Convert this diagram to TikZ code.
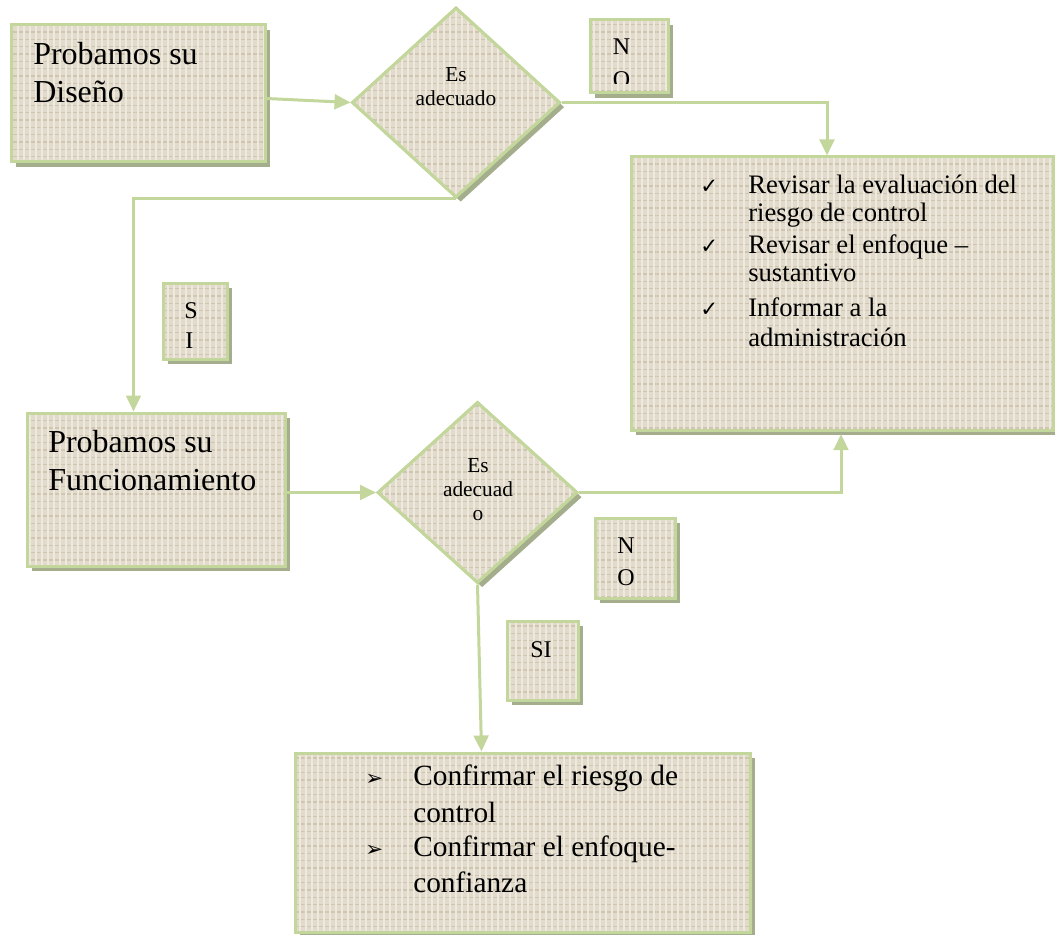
\documentclass[tikz,border=0pt]{standalone}
\usepackage{fontspec}
\setmainfont{Liberation Serif}
\newfontfamily\dejavu{DejaVu Sans}
\usetikzlibrary{shapes.geometric,shadows,arrows.meta,patterns.meta}
\definecolor{bordc}{HTML}{C3D69B}
\definecolor{shadc}{HTML}{A4AD8C}
\definecolor{fillc}{HTML}{E2DACA}
\definecolor{texdark}{HTML}{CFC5B0}
\definecolor{texlight}{HTML}{EEE9DE}
\tikzset{
  shp/.style={draw=bordc, line width=2.25pt, fill=fillc, inner sep=0pt,
    drop shadow={shadow xshift=3.5pt, shadow yshift=-3.5pt, fill=shadc, opacity=1},
    postaction={pattern={Lines[angle=0,distance=5.5pt,line width=1pt]}, pattern color=texdark},
    postaction={pattern={Lines[angle=90,distance=4.5pt,line width=1pt]}, pattern color=texlight},
    postaction={draw=bordc, line width=2.25pt}},
  boxshape/.style={shp, rectangle},
  dshape/.style={shp, diamond},
  conn/.style={draw=bordc, line width=2.25pt, -{Triangle[length=12pt,width=11pt]}},
  ln/.style={inner sep=0pt, anchor=base west},
  lnc/.style={inner sep=0pt, anchor=base},
  fbig/.style={font=\fontsize{24pt}{28pt}\selectfont},
  fright/.style={font=\fontsize{20pt}{24pt}\selectfont},
  fbot/.style={font=\fontsize{22pt}{26pt}\selectfont},
  fdia/.style={font=\fontsize{16pt}{19pt}\selectfont},
  flab/.style={font=\fontsize{18pt}{21pt}\selectfont},
  fsym/.style={font=\dejavu\fontsize{16pt}{18pt}\selectfont},
}
\begin{document}
\begin{tikzpicture}[x=0.75pt,y=-0.75pt]
\useasboundingbox (0,0) rectangle (1055,934);

% shapes
\node[boxshape, minimum width=190.5pt, minimum height=102.75pt] (b1) at (138,93.5) {};
\node[dshape, minimum width=156pt, minimum height=142.5pt] (d1) at (456,102.5) {};
\node[boxshape, minimum width=58.5pt, minimum height=54.75pt] (no1) at (629,56.5) {};
\node[boxshape, minimum width=316.5pt, minimum height=204.75pt] (rb) at (842.5,293.5) {};
\node[boxshape, minimum width=48pt, minimum height=57pt] (si1) at (195,321) {};
\node[boxshape, minimum width=193.5pt, minimum height=114.75pt] (b2) at (156,489.5) {};
\node[dshape, minimum width=150pt, minimum height=135.75pt] (d2) at (477.5,492.5) {};
\node[boxshape, minimum width=60pt, minimum height=60pt] (no2) at (635,558) {};
\node[boxshape, minimum width=53.25pt, minimum height=59.25pt] (si2) at (542.5,660.5) {};
\node[boxshape, minimum width=341.25pt, minimum height=134.25pt] (bb) at (522.5,842.5) {};

% connectors
\draw[conn] ([yshift=-3.75pt]b1.east) -- (d1.west);
\draw[conn] (d1.east) -| ([xshift=147.75pt]rb.north west);
\draw[conn] (d1.south) -| ([xshift=81pt]b2.north west);
\draw[conn] (b2.east |- d2.west) -- (d2.west);
\draw[conn] (d2.east) -| ([xshift=158.25pt,yshift=-2pt]rb.south west);
\draw[conn] (d2.south) -- ([xshift=141pt]bb.north west);

% texts
\node[ln, fbig] (t1a) at (33,65) {Probamos su};
\node[ln, fbig] (t1b) at (33,103) {Diseño};
\node[ln, fbig] (t2a) at (48,452) {Probamos su};
\node[ln, fbig] (t2b) at (48,490) {Funcionamiento};

\node[lnc, fdia] (d1a) at (456,82) {Es};
\node[lnc, fdia] (d1b) at (456,106) {adecuado};
\node[lnc, fdia] (d2a) at (478,472) {Es};
\node[lnc, fdia] (d2b) at (478,496) {adecuad};
\node[lnc, fdia] (d2c) at (478,520) {o};

\node[lnc, flab] (no1n) at (621.5,55) {N};
\begin{scope}
  \clip (590,20) rectangle (668,84);
  \node[lnc, flab] (no1o) at (621.5,88) {O};
\end{scope}
\node[lnc, flab] (no2n) at (626,553) {N};
\node[lnc, flab] (no2o) at (626,585) {O};
\node[ln, flab] (si1s) at (184,318) {S};
\node[ln, flab] (si1i) at (185,348) {I};
\node[lnc, flab] (si2t) at (541,657) {SI};

\node[ln, fsym] (ck1) at (700,194) {✓};
\node[ln, fsym] (ck2) at (700,253) {✓};
\node[ln, fsym] (ck3) at (700,316) {✓};
\node[ln, fright] (r1) at (748,194) {Revisar la evaluación del};
\node[ln, fright] (r2) at (748,222) {riesgo de control};
\node[ln, fright] (r3) at (748,253) {Revisar el enfoque –};
\node[ln, fright] (r4) at (748,281) {sustantivo};
\node[ln, fright] (r5) at (748,316) {Informar a la};
\node[ln, fright] (r6) at (748,346) {administración};

\node[ln, fsym] (bl1) at (365,785) {➢};
\node[ln, fsym] (bl2) at (365,856) {➢};
\node[ln, fbot] (c1) at (413,785) {Confirmar el riesgo de};
\node[ln, fbot] (c2) at (413,822) {control};
\node[ln, fbot] (c3) at (413,856) {Confirmar el enfoque-};
\node[ln, fbot] (c4) at (413,892) {confianza};
\end{tikzpicture}
\end{document}
